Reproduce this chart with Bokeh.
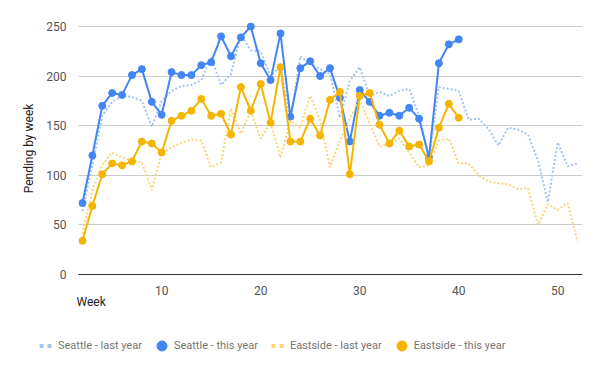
from bokeh.plotting import figure
from bokeh.models import Range1d, FixedTicker, Legend, LegendItem, Title
from bokeh.layouts import column, row
from bokeh.embed import file_html
from bokeh.resources import INLINE

# ---- data ----
weeks_this = list(range(2, 41))
weeks_last = list(range(2, 53))
seattle_this = [72, 120, 170, 183, 181, 201, 207, 174, 161, 204,
                201, 201, 211, 214, 240, 220, 239, 250, 213, 196,
                243, 159, 208, 215, 200, 208, 178, 134, 186, 174,
                160, 163, 160, 168, 157, 118, 213, 232, 237]
eastside_this = [34, 69, 101, 112, 110, 114, 134, 132, 123, 155,
                 160, 165, 177, 160, 162, 141, 189, 165, 192, 153,
                 209, 134, 134, 157, 140, 176, 184, 101, 180, 183,
                 151, 132, 145, 129, 131, 114, 148, 172, 158]
seattle_last = [64, 110, 160, 174, 180, 179, 175, 149, 175, 185,
                190, 191, 196, 219, 191, 202, 242, 226, 225, 200,
                210, 155, 220, 212, 207, 202, 158, 195, 209, 180,
                184, 180, 185, 187, 160, 117, 189, 187, 185, 156,
                157, 147, 130, 148, 146, 141, 115, 73, 133, 109,
                112]
eastside_last = [41, 85, 111, 123, 118, 115, 113, 85, 122, 128,
                 133, 136, 135, 108, 113, 167, 142, 165, 137, 153,
                 118, 155, 148, 180, 155, 108, 135, 157, 177, 152,
                 129, 132, 137, 123, 108, 110, 135, 137, 112, 112,
                 100, 94, 92, 91, 86, 87, 50, 71, 65, 72,
                 33]
x_ticks = [10, 20, 30, 40, 50]
y_ticks = [0, 50, 100, 150, 200, 250]
labels = ["Seattle - last year", "Seattle - this year",
          "Eastside - last year", "Eastside - this year"]

BLUE = "#4285f4"
YELLOW = "#f4b400"
LBLUE = "#a4c4f5"
LYELLOW = "#fcd57b"
FONT = "Roboto"

p = figure(width=592, height=316, output_backend="svg", toolbar_location=None,
           x_range=Range1d(1.6, 52.5), y_range=Range1d(0, 254),
           min_border_left=78, min_border_right=10, min_border_top=22,
           min_border_bottom=42)
p.outline_line_color = None
p.background_fill_color = "white"
p.border_fill_color = "white"

p.xgrid.grid_line_color = None
p.ygrid.grid_line_color = "#cccccc"
p.ygrid.ticker = FixedTicker(ticks=y_ticks)

p.xaxis.ticker = FixedTicker(ticks=x_ticks)
p.yaxis.ticker = FixedTicker(ticks=y_ticks)
for ax in (p.xaxis, p.yaxis):
    ax.major_tick_line_color = None
    ax.minor_tick_line_color = None
    ax.major_label_text_font = FONT
    ax.major_label_text_font_size = "12px"
    ax.major_label_text_color = "#555555"
p.xaxis.axis_line_color = "#333333"
p.xaxis.major_label_standoff = 5
p.yaxis.axis_line_color = None
p.yaxis.major_label_standoff = 6
p.yaxis.axis_label = "Pending by week"
p.yaxis.axis_label_text_font = FONT
p.yaxis.axis_label_text_font_size = "12px"
p.yaxis.axis_label_text_font_style = "normal"
p.yaxis.axis_label_text_color = "#222222"
p.yaxis.axis_label_standoff = 7

# x-axis title, left aligned under the axis
p.add_layout(Title(text="Week", align="left", offset=-2, standoff=-9,
                   text_font=FONT, text_font_size="12px",
                   text_font_style="normal", text_color="#222222"), "below")

# series
p.line(weeks_last, seattle_last, line_color=LBLUE, line_width=2, line_dash="2 2")
p.line(weeks_this, seattle_this, line_color=BLUE, line_width=2)
p.scatter(weeks_this, seattle_this, size=7, color=BLUE)
p.line(weeks_last, eastside_last, line_color=LYELLOW, line_width=2, line_dash="2 2")
p.line(weeks_this, eastside_this, line_color=YELLOW, line_width=2)
p.scatter(weeks_this, eastside_this, size=7, color=YELLOW)

# legend strip (its renderers hold a single point outside the visible range)
lg = figure(width=592, height=47, output_backend="svg", toolbar_location=None,
            x_range=Range1d(0, 1), y_range=Range1d(0, 1),
            min_border_left=0, min_border_right=0, min_border_top=0,
            min_border_bottom=0)
lg.axis.visible = False
lg.grid.visible = False
lg.outline_line_color = None
off = [-5]
d_sl = lg.line(off, off, line_color=LBLUE, line_width=4, line_dash="0 6 4 4 4 7")
d_st = lg.scatter(off, off, size=7, color=BLUE)
d_el = lg.line(off, off, line_color=LYELLOW, line_width=4, line_dash="0 6 4 4 4 7")
d_et = lg.scatter(off, off, size=7, color=YELLOW)

legend = Legend(items=[LegendItem(label=labels[0], renderers=[d_sl]),
                       LegendItem(label=labels[1], renderers=[d_st]),
                       LegendItem(label=labels[2], renderers=[d_el]),
                       LegendItem(label=labels[3], renderers=[d_et])],
                location=(33, 5), orientation="horizontal",
                glyph_width=25, glyph_height=25, label_height=12,
                label_standoff=0, padding=0, margin=0, spacing=7,
                border_line_color=None, background_fill_alpha=0,
                label_text_font=FONT, label_text_font_size="11px",
                label_text_color="#757575")
lg.add_layout(legend, "center")

layout = column(p, row(lg))
open("out.html", "w").write(file_html(layout, INLINE))
